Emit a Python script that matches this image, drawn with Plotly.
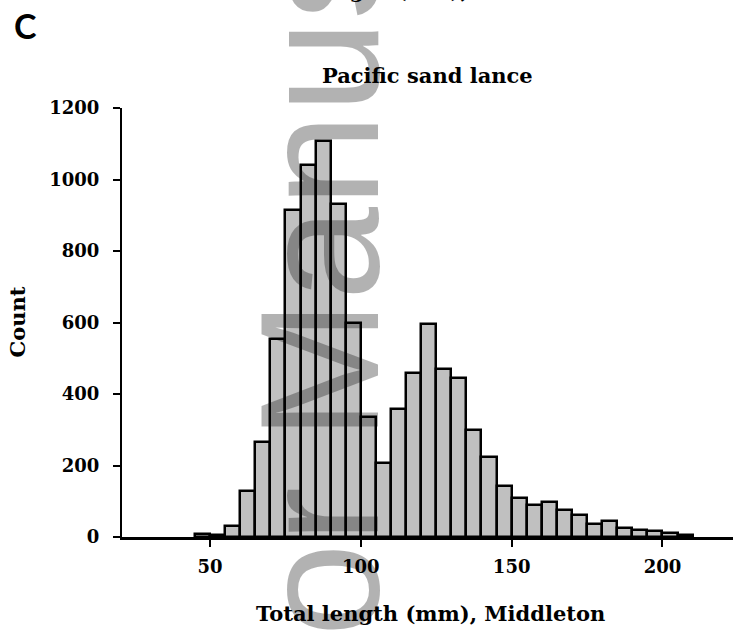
import plotly.graph_objects as go

# ---- data ----
bin_start = [45, 50, 55, 60, 65, 70, 75, 80, 85, 90, 95, 100, 105, 110, 115, 120, 125,
             130, 135, 140, 145, 150, 155, 160, 165, 170, 175, 180, 185, 190, 195, 200, 205]
counts = [8, 5, 32, 130, 265, 555, 915, 1041, 1107, 931, 600, 336, 208, 358, 458, 596, 471,
          445, 298, 225, 143, 109, 90, 98, 75, 62, 35, 46, 26, 20, 16, 11, 6]
bin_width = 5
x_ticks = [50, 100, 150, 200]
y_ticks = [0, 200, 400, 600, 800, 1000, 1200]

title_text = "Pacific sand lance"
x_title = "Total length (mm), Middleton"
y_title = "Count"
panel_label = "C"
watermark = "Author Manuscript"
prev_title = "Total length (mm),"

# ---- geometry ----
W, H = 735, 634
L, R, T, B = 122, 2, 108, 97
PW, PH = W - L - R, H - T - B


def px(x):
    return (x - L) / PW


def py(y):
    return (H - B - y) / PH


SERIF = "DejaVu Serif"
centers = [s + bin_width / 2 for s in bin_start]

fig = go.Figure()
fig.add_trace(go.Bar(
    x=centers, y=counts, width=[bin_width] * len(counts),
    marker=dict(color="#c0c0c0", line=dict(color="black", width=2.5)),
    showlegend=False,
))

fig.update_layout(
    width=W, height=H,
    margin=dict(l=L, r=R, t=T, b=B, pad=0),
    paper_bgcolor="white", plot_bgcolor="white",
    bargap=0,
    xaxis=dict(
        range=[20.8, 223.4], tickvals=x_ticks, ticks="outside", ticklen=7, tickwidth=2,
        tickcolor="black", showline=True, linewidth=3, linecolor="black",
        showgrid=False, zeroline=False, ticklabelstandoff=4,
        tickfont=dict(family=SERIF, size=18, color="black", weight="bold"),
    ),
    yaxis=dict(
        range=[0, 1200], tickvals=y_ticks, ticks="outside", ticklen=7, tickwidth=2,
        tickcolor="black", showline=True, linewidth=2, linecolor="black",
        showgrid=False, zeroline=False, ticklabelstandoff=10,
        tickfont=dict(family=SERIF, size=18, color="black", weight="bold"),
    ),
    annotations=[
        dict(text=title_text, x=px(427.5), y=py(75), xref="paper", yref="paper",
             showarrow=False, xanchor="center", yanchor="middle",
             font=dict(family=SERIF, size=21, color="black", weight="bold")),
        dict(text=x_title, x=px(430), y=py(613), xref="paper", yref="paper",
             showarrow=False, xanchor="center", yanchor="middle",
             font=dict(family=SERIF, size=21, color="black", weight="bold")),
        dict(text=y_title, x=px(17), y=py(322.5), xref="paper", yref="paper",
             showarrow=False, xanchor="center", yanchor="middle", textangle=-90,
             font=dict(family=SERIF, size=21, color="black", weight="bold")),
        dict(text=panel_label, x=px(25), y=py(25), xref="paper", yref="paper",
             showarrow=False, xanchor="center", yanchor="middle",
             font=dict(family="Lato", size=34, color="black", weight="bold")),
        dict(text=prev_title, x=px(245), y=py(-10), xref="paper", yref="paper",
             showarrow=False, xanchor="left", yanchor="middle",
             font=dict(family=SERIF, size=21, color="black", weight="bold")),
        dict(text=watermark, x=px(320), y=py(301), xref="paper", yref="paper",
             showarrow=False, xanchor="center", yanchor="middle", textangle=-90,
             font=dict(family="Liberation Sans", size=168, color="rgba(0,0,0,0.3)")),
    ],
)

fig.write_html("out.html")
